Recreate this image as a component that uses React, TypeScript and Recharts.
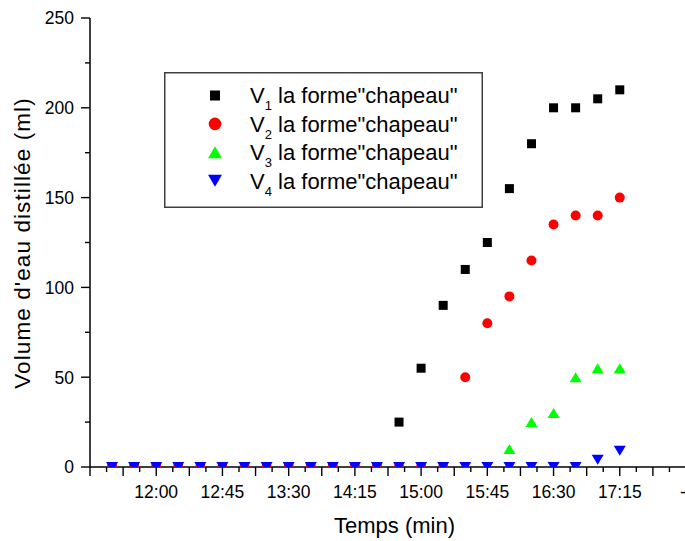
import React from "react";
import { ScatterChart, Scatter, XAxis, YAxis, Legend, Label } from "recharts";

// ---- data ----
const times = [
  "11:30", "11:45", "12:00", "12:15", "12:30", "12:45", "13:00", "13:15",
  "13:30", "13:45", "14:00", "14:15", "14:30", "14:45", "15:00", "15:15",
  "15:30", "15:45", "16:00", "16:15", "16:30", "16:45", "17:00", "17:15",
];
const v1 = [0, 0, 0, 0, 0, 0, 0, 0, 0, 0, 0, 0, 0, 25, 55, 90, 110, 125, 155, 180, 200, 200, 205, 210];
const v2 = [0, 0, 0, 0, 0, 0, 0, 0, 0, 0, 0, 0, 0, 0, 0, 0, 50, 80, 95, 115, 135, 140, 140, 150];
const v3 = [0, 0, 0, 0, 0, 0, 0, 0, 0, 0, 0, 0, 0, 0, 0, 0, 0, 0, 10, 25, 30, 50, 55, 55];
const v4 = [0, 0, 0, 0, 0, 0, 0, 0, 0, 0, 0, 0, 0, 0, 0, 0, 0, 0, 0, 0, 0, 0, 4, 9];

const xTickLabels = ["12:00", "12:45", "13:30", "14:15", "15:00", "15:45", "16:30", "17:15"];
const xAxisStart = "11:15";
const xAxisEnd = "18:00";
const yTicks = [0, 25, 50, 75, 100, 125, 150, 175, 200, 225, 250];

const seriesNames = ["V1", "V2", "V3", "V4"];

// ---- helpers ----
const toMin = (s: string) => {
  const [h, m] = s.split(":").map(Number);
  return h * 60 + m;
};
const xMin = toMin(xAxisStart);
const xMax = toMin(xAxisEnd);
const minorStep = 11.25;
const xTicks: number[] = [];
for (let v = xMin; v <= xMax + 0.001; v += minorStep) xTicks.push(v);
const labelMap: Record<number, string> = {};
xTickLabels.forEach((l) => (labelMap[toMin(l)] = l));

const mk = (vals: number[]) => times.map((t, i) => ({ x: toMin(t), y: vals[i] }));
const d1 = mk(v1);
const d2 = mk(v2);
const d3 = mk(v3);
const d4 = mk(v4);

const FONT = "Arial, 'Liberation Sans', sans-serif";

// ---- shapes ----
const SquareShape = (p: any) => (
  <rect x={p.cx - 4.5} y={p.cy - 4.5} width={9} height={9} fill="#000000" />
);
const CircleShape = (p: any) => <circle cx={p.cx} cy={p.cy} r={5} fill="#ff0000" />;
const TriUp = (p: any) => (
  <polygon
    points={`${p.cx - 6},${p.cy + 5} ${p.cx + 6},${p.cy + 5} ${p.cx},${p.cy - 5}`}
    fill="#00ff00"
  />
);
const TriDown = (p: any) => (
  <polygon
    points={`${p.cx - 6},${p.cy - 5} ${p.cx + 6},${p.cy - 5} ${p.cx},${p.cy + 5}`}
    fill="#0000ff"
  />
);

// ---- ticks ----
const XTick = (props: any) => {
  const { x, y, payload } = props;
  const v = payload.value as number;
  const k = Math.round((v - xMin) / minorStep);
  const major = k % 2 === 0;
  const label = v === xMax ? "-" : labelMap[v];
  return (
    <g>
      <line x1={x} x2={x} y1={y} y2={y + (major ? 9 : 5)} stroke="#000" strokeWidth={1.4} />
      {label && (
        <text
          x={v === xMax ? x - 3 : x}
          y={y + 31}
          textAnchor="middle"
          fontSize={17.5}
          fontFamily={FONT}
          fill="#000"
        >
          {label}
        </text>
      )}
    </g>
  );
};

const YTick = (props: any) => {
  const { x, y, payload } = props;
  const v = payload.value as number;
  const major = v % 50 === 0;
  return (
    <g>
      <line x1={x - (major ? 9 : 5)} x2={x} y1={y} y2={y} stroke="#000" strokeWidth={1.4} />
      {major && (
        <text
          x={x - 16}
          y={y}
          dy="0.36em"
          textAnchor="end"
          fontSize={17.5}
          fontFamily={FONT}
          fill="#000"
        >
          {v}
        </text>
      )}
    </g>
  );
};

// ---- legend ----
const legendMarkers = [
  (cx: number, cy: number) => <rect x={cx - 5} y={cy - 5} width={10} height={10} fill="#000" />,
  (cx: number, cy: number) => <circle cx={cx} cy={cy} r={6.3} fill="#ff0000" />,
  (cx: number, cy: number) => (
    <polygon points={`${cx - 7},${cy + 6} ${cx + 7},${cy + 6} ${cx},${cy - 6}`} fill="#00ff00" />
  ),
  (cx: number, cy: number) => (
    <polygon points={`${cx - 7},${cy - 6} ${cx + 7},${cy - 6} ${cx},${cy + 6}`} fill="#0000ff" />
  ),
];

const renderLegend = () => (
  <svg width={320} height={137} style={{ display: "block" }}>
    <rect x={0.75} y={0.75} width={317.5} height={134.5} fill="#fff" stroke="#404040" strokeWidth={1.5} />
    {seriesNames.map((n, i) => {
      const cy = 23.5 + i * 28.4;
      return (
        <g key={n}>
          {legendMarkers[i](51, cy)}
          <text x={86} y={cy + 7.8} fontSize={22} fontFamily={FONT} fill="#000">
            <tspan>{n.charAt(0)}</tspan>
            <tspan dy={7} fontSize={13}>{n.slice(1)}</tspan>
            <tspan dy={-7}>{' la forme"chapeau"'}</tspan>
          </text>
        </g>
      );
    })}
  </svg>
);

export default function App() {
  return (
    <div
      style={{
        position: "absolute",
        left: 0,
        top: 0,
        width: 685,
        height: 541,
        overflow: "hidden",
        background: "#fff",
      }}
    >
      <ScatterChart width={700} height={541} margin={{ top: 18, right: 14, bottom: 0, left: 0 }}>
        <XAxis
          type="number"
          dataKey="x"
          domain={[xMin, xMax]}
          ticks={xTicks}
          interval={0}
          height={74}
          tickSize={0}
          tickMargin={0}
          tickLine={false}
          tick={<XTick />}
          axisLine={{ stroke: "#000", strokeWidth: 1.5 }}
        >
          <Label
            content={() => (
              <text x={394.5} y={533} textAnchor="middle" fontSize={22} fontFamily={FONT} fill="#000">
                Temps (min)
              </text>
            )}
          />
        </XAxis>
        <YAxis
          type="number"
          dataKey="y"
          domain={[0, 250]}
          ticks={yTicks}
          interval={0}
          width={90}
          tickSize={0}
          tickMargin={0}
          tickLine={false}
          allowDataOverflow
          tick={<YTick />}
          axisLine={{ stroke: "#000", strokeWidth: 1.5 }}
        >
          <Label
            content={() => (
              <text
                x={30}
                y={243}
                transform="rotate(-90, 30, 243)"
                textAnchor="middle"
                fontSize={22.5}
                letterSpacing={1.1}
                fontFamily={FONT}
                fill="#000"
              >
                Volume d'eau distillée (ml)
              </text>
            )}
          />
        </YAxis>
        <Legend
          layout="vertical"
          align="center"
          verticalAlign="middle"
          wrapperStyle={{ left: 164, top: 72, width: 320, height: 137 }}
          content={renderLegend}
        />
        <Scatter name="V1" data={d1} shape={SquareShape} isAnimationActive={false} />
        <Scatter name="V2" data={d2} shape={CircleShape} isAnimationActive={false} />
        <Scatter name="V3" data={d3} shape={TriUp} isAnimationActive={false} />
        <Scatter name="V4" data={d4} shape={TriDown} isAnimationActive={false} />
      </ScatterChart>
    </div>
  );
}
